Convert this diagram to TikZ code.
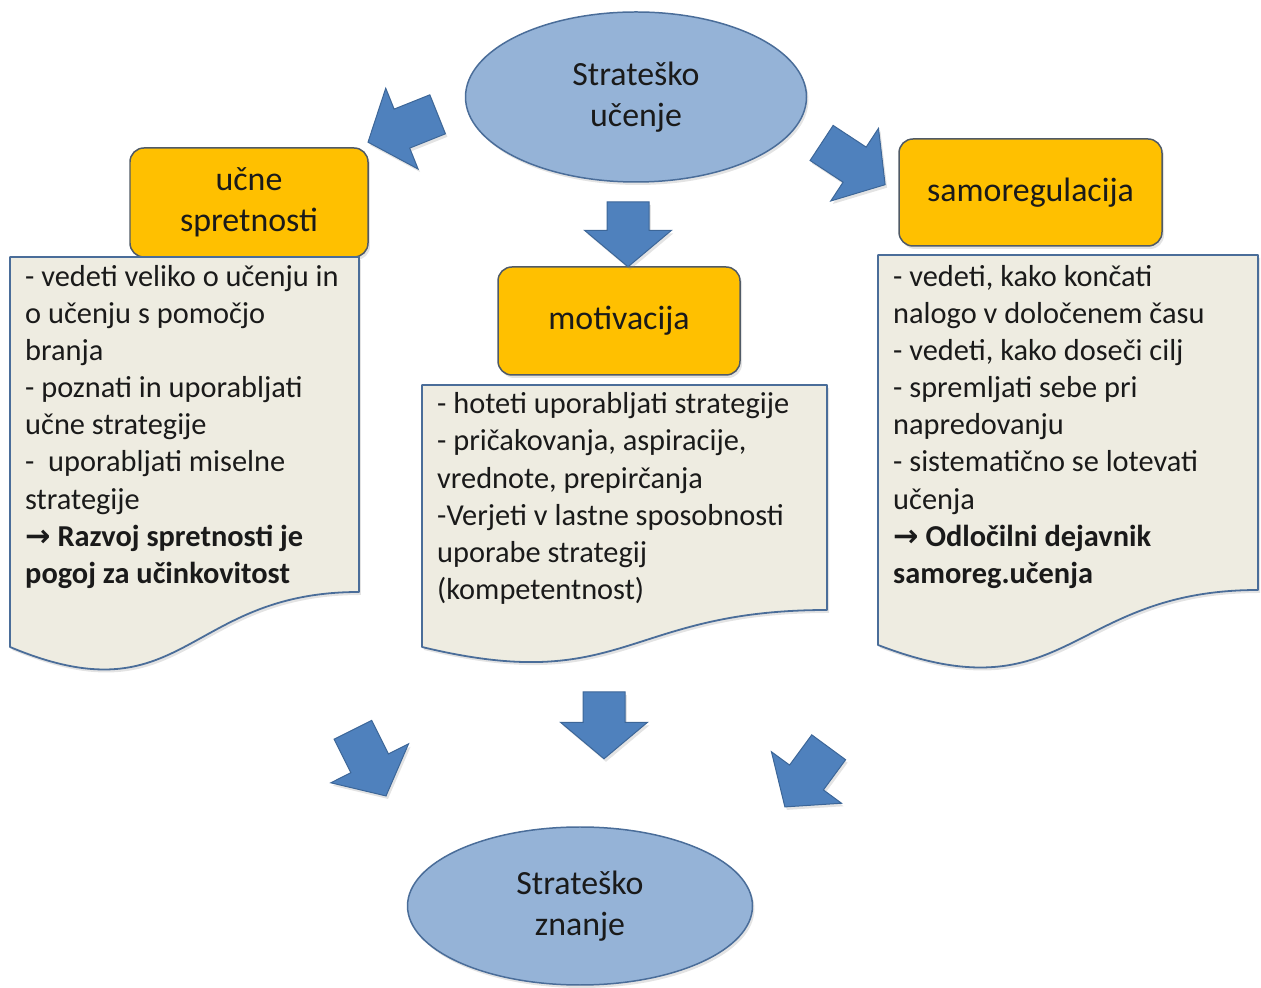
\documentclass[tikz,border=0pt]{standalone}
\usepackage{fontspec}
\setmainfont{Carlito}
\newfontfamily\arrowfont{DejaVu Sans}
\usetikzlibrary{shapes.geometric,shapes.arrows,shadows}
\definecolor{ovalfill}{HTML}{95B3D7}
\definecolor{ovaldraw}{HTML}{4A6D99}
\definecolor{boxfill}{HTML}{FFC000}
\definecolor{boxdraw}{HTML}{505A66}
\definecolor{docfill}{HTML}{EEECE1}
\definecolor{docdraw}{HTML}{4A6D99}
\definecolor{arrfill}{HTML}{4F81BD}
\definecolor{arrdraw}{HTML}{3C6698}
\definecolor{txt}{HTML}{1A1A1A}
\begin{document}
\begin{tikzpicture}[>=latex,line join=bevel,
  shade/.style={drop shadow={opacity=0.22,shadow xshift=2pt,shadow yshift=-3pt}},
  oval/.style={ellipse,draw=ovaldraw,line width=1.5pt,fill=ovalfill,shade,inner sep=0pt,
    align=center,text=txt,font=\fontsize{34}{41.5}\selectfont},
  topic/.style={rectangle,rounded corners=14pt,draw=boxdraw,line width=1.5pt,fill=boxfill,shade,
    inner sep=0pt,align=center,text=txt,font=\fontsize{34}{41.5}\selectfont},
  doc/.style={draw=docdraw,line width=1.8pt,fill=docfill,shade},
  items/.style={anchor=base west,inner sep=0pt,align=left,text=txt,font=\fontsize{30.5}{37.3}\selectfont},
  bigarrow/.style={single arrow,draw=arrdraw,line width=1pt,fill=arrfill,shade,inner xsep=0pt,
    inner ysep=20.5bp,minimum width=86bp,single arrow head extend=22.5bp,single arrow tip angle=100,
    line join=miter},]
\useasboundingbox (0bp,0bp) rectangle (1261bp,988bp);
%%
\node (node_0) at (636bp,891bp) [oval,minimum width=341bp,minimum height=170bp] {Strateško\\učenje};
  \node (node_1) at (580bp,82bp) [oval,minimum width=345bp,minimum height=158bp] {Strateško\\znanje};
  \node (node_2) at (249bp,785.5bp) [topic,minimum width=238bp,minimum height=109bp] {učne\\spretnosti};
  \node (node_3) at (619bp,667bp) [topic,minimum width=242bp,minimum height=108bp] {motivacija};
  \node (node_4) at (1030.5bp,795.5bp) [topic,minimum width=263bp,minimum height=107bp] {samoregulacija};
%
  \draw [doc] (10bp,731bp) -- (359bp,731bp) -- (359bp,396bp) ..controls (184.5bp,396bp) and (184.5bp,268bp)  .. (10bp,341bp) -- cycle;
  \draw [doc] (422bp,603bp) -- (827bp,603bp) -- (827bp,378bp) ..controls (624.5bp,378bp) and (624.5bp,292bp)  .. (422bp,341bp) -- cycle;
  \draw [doc] (878bp,733bp) -- (1258bp,733bp) -- (1258bp,398bp) ..controls (1068bp,398bp) and (1068bp,270bp)  .. (878bp,343bp) -- cycle;
%
  \node (node_5) at (25bp,404.6bp) [items] {- vedeti veliko o učenju in\\o učenju s pomočjo\\branja\\- poznati in uporabljati\\učne strategije\\-\ \ uporabljati miselne\\strategije\\\textbf{{\arrowfont →} Razvoj spretnosti je}\\\textbf{pogoj za učinkovitost}};
  \node (node_6) at (437bp,388.5bp) [items] {- hoteti uporabljati strategije\\- pričakovanja, aspiracije,\\vrednote, prepirčanja\\-Verjeti v lastne sposobnosti\\uporabe strategij\\(kompetentnost)};
  \node (node_7) at (893bp,404.6bp) [items] {- vedeti, kako končati\\nalogo v določenem času\\- vedeti, kako doseči cilj\\- spremljati sebe pri\\napredovanju\\- sistematično se lotevati\\učenja\\\textbf{{\arrowfont →} Odločilni dejavnik}\\\textbf{samoreg.učenja}};
%
  \node (node_8) at (411bp,863bp) [bigarrow,minimum height=75bp,rotate=201.8] {};
  \node (node_9) at (846bp,829bp) [bigarrow,minimum height=76bp,rotate=-33.3] {};
  \node (node_10) at (628bp,762.5bp) [bigarrow,minimum height=65bp,rotate=-90] {};
  \node (node_11) at (365.5bp,233bp) [bigarrow,minimum height=74bp,rotate=-63.4] {};
  \node (node_12) at (604bp,271.5bp) [bigarrow,minimum height=67bp,rotate=-90] {};
  \node (node_13) at (812bp,218bp) [bigarrow,minimum height=74bp,rotate=-126.3] {};
%
\end{tikzpicture}
\end{document}
